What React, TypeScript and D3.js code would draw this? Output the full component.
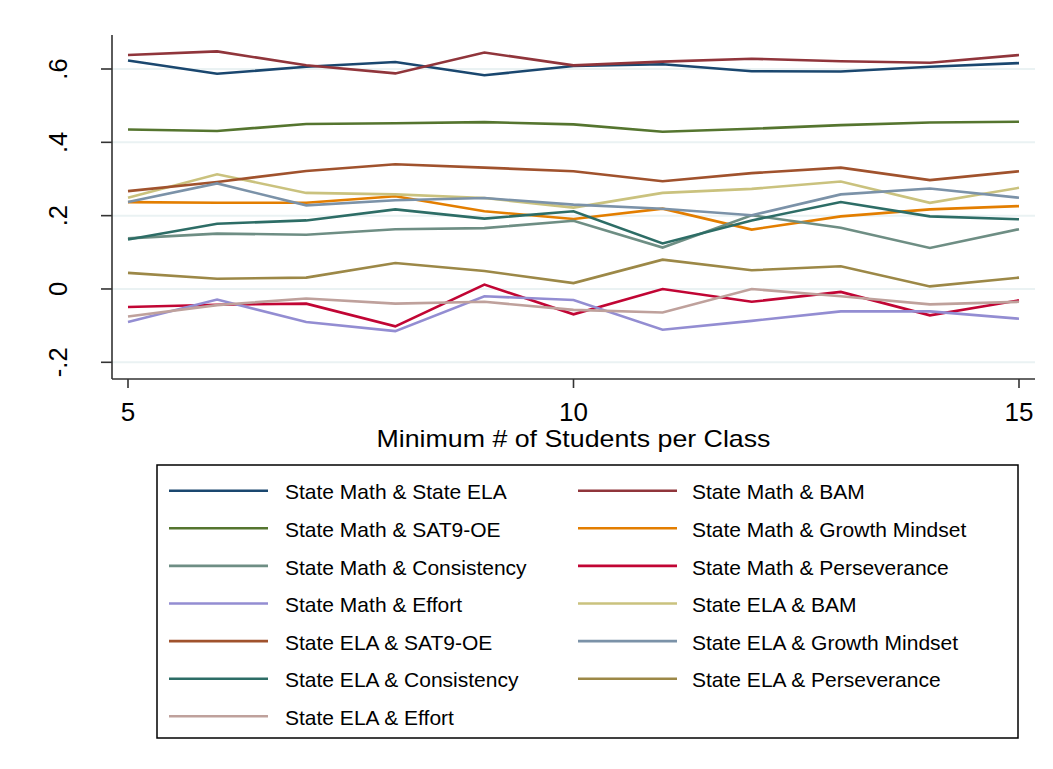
import React from "react";
import * as d3 from "d3";

const width = 1053;
const height = 769;

// x values (minimum # of students per class)
const minStudents = [5, 6, 7, 8, 9, 10, 11, 12, 13, 14, 15];

const yTicks = [-0.2, 0, 0.2, 0.4, 0.6];
const yTickLabels = ["-.2", "0", ".2", ".4", ".6"];
const xTicks = [5, 10, 15];

const mathEla = [0.623, 0.587, 0.606, 0.619, 0.583, 0.608, 0.613, 0.594, 0.593, 0.606, 0.616];
const mathBam = [0.638, 0.648, 0.610, 0.588, 0.645, 0.610, 0.620, 0.628, 0.621, 0.617, 0.638];
const mathSat9 = [0.435, 0.431, 0.450, 0.452, 0.455, 0.449, 0.429, 0.437, 0.447, 0.454, 0.456];
const mathGrowth = [0.237, 0.235, 0.235, 0.253, 0.212, 0.191, 0.219, 0.162, 0.198, 0.217, 0.226];
const mathConsistency = [0.138, 0.151, 0.148, 0.163, 0.166, 0.186, 0.113, 0.201, 0.167, 0.112, 0.163];
const mathPersev = [-0.049, -0.043, -0.040, -0.102, 0.012, -0.069, 0.0, -0.035, -0.008, -0.072, -0.031];
const mathEffort = [-0.090, -0.029, -0.090, -0.115, -0.020, -0.030, -0.111, -0.087, -0.061, -0.061, -0.081];
const elaBam = [0.249, 0.313, 0.262, 0.258, 0.248, 0.222, 0.262, 0.273, 0.293, 0.235, 0.276];
const elaSat9 = [0.267, 0.292, 0.322, 0.340, 0.331, 0.321, 0.294, 0.316, 0.331, 0.297, 0.321];
const elaGrowth = [0.237, 0.288, 0.228, 0.242, 0.248, 0.230, 0.219, 0.201, 0.258, 0.274, 0.249];
const elaConsistency = [0.135, 0.178, 0.187, 0.217, 0.192, 0.212, 0.124, 0.187, 0.237, 0.198, 0.190];
const elaPersev = [0.044, 0.028, 0.031, 0.071, 0.049, 0.016, 0.080, 0.051, 0.062, 0.007, 0.031];
const elaEffort = [-0.075, -0.044, -0.026, -0.040, -0.035, -0.057, -0.064, 0.0, -0.020, -0.042, -0.035];

const seriesNames = [
  "State Math & State ELA",
  "State Math & BAM",
  "State Math & SAT9-OE",
  "State Math & Growth Mindset",
  "State Math & Consistency",
  "State Math & Perseverance",
  "State Math & Effort",
  "State ELA & BAM",
  "State ELA & SAT9-OE",
  "State ELA & Growth Mindset",
  "State ELA & Consistency",
  "State ELA & Perseverance",
  "State ELA & Effort",
];
const seriesValues = [
  mathEla, mathBam, mathSat9, mathGrowth, mathConsistency, mathPersev, mathEffort,
  elaBam, elaSat9, elaGrowth, elaConsistency, elaPersev, elaEffort,
];
// stata s2color
const seriesColors = [
  "#1a476f", "#90353b", "#55752f", "#e37e00", "#6e8e84", "#c10534", "#938dd2",
  "#cac27e", "#a0522d", "#7b92a8", "#2d6d66", "#9c8847", "#bfa19c",
];

const plot = { left: 112, right: 1035, top: 35, bottom: 379 };
const font = "Arial, 'Liberation Sans', Helvetica, sans-serif";

export default function App() {
  const x = d3.scaleLinear().domain([5, 15]).range([128, 1019]);
  const y = d3.scaleLinear().domain([-0.2, 0.6]).range([362.3, 69]);

  const line = d3
    .line<number>()
    .x((d, i) => x(minStudents[i]))
    .y((d) => y(d));

  const legendRow = 37.6;
  const legendTop = 490.7;
  const cols = [
    { lx: 169, tx: 285 },
    { lx: 578, tx: 692 },
  ];

  return (
    <svg
      width={width}
      height={height}
      style={{ position: "absolute", left: 0, top: 0, background: "#fff" }}
      fontFamily={font}
    >
      <rect width={width} height={height} fill="#fff" />
      {/* grid */}
      {yTicks.map((t) => (
        <line key={"g" + t} x1={plot.left} x2={plot.right} y1={y(t)} y2={y(t)} stroke="#eaf2f3" strokeWidth={2} />
      ))}
      {/* series */}
      {seriesValues.map((vals, i) => (
        <path key={seriesNames[i]} d={line(vals) || ""} fill="none" stroke={seriesColors[i]} strokeWidth={2.6} strokeLinejoin="miter" />
      ))}
      {/* y axis */}
      <line x1={plot.left} x2={plot.left} y1={plot.top} y2={plot.bottom} stroke="#333" strokeWidth={1.6} />
      {yTicks.map((t, i) => (
        <g key={"yt" + t}>
          <line x1={plot.left - 11} x2={plot.left} y1={y(t)} y2={y(t)} stroke="#333" strokeWidth={1.6} />
          <text transform={`translate(67,${y(t)}) rotate(-90)`} textAnchor="middle" fontSize={25.5} fill="#000">
            {yTickLabels[i]}
          </text>
        </g>
      ))}
      {/* x axis */}
      <line x1={plot.left} x2={plot.right} y1={plot.bottom} y2={plot.bottom} stroke="#333" strokeWidth={1.6} />
      {xTicks.map((t) => (
        <g key={"xt" + t}>
          <line x1={x(t)} x2={x(t)} y1={plot.bottom} y2={plot.bottom + 9} stroke="#333" strokeWidth={1.6} />
          <text x={x(t)} y={420.5} textAnchor="middle" fontSize={26} fill="#000">
            {t}
          </text>
        </g>
      ))}
      <text x={x(10)} y={446.5} textAnchor="middle" fontSize={24} fill="#000" textLength={394} lengthAdjust="spacingAndGlyphs">
        Minimum # of Students per Class
      </text>
      {/* legend */}
      <rect x={157} y={465} width={861} height={273} fill="#fff" stroke="#000" strokeWidth={1.5} />
      {seriesNames.map((name, i) => {
        const c = cols[i % 2];
        const ly = legendTop + Math.floor(i / 2) * legendRow;
        return (
          <g key={"lg" + name}>
            <line x1={c.lx} x2={c.lx + 99} y1={ly} y2={ly} stroke={seriesColors[i]} strokeWidth={2.6} />
            <text x={c.tx} y={ly + 8.6} fontSize={21} fill="#000">
              {name}
            </text>
          </g>
        );
      })}
    </svg>
  );
}
